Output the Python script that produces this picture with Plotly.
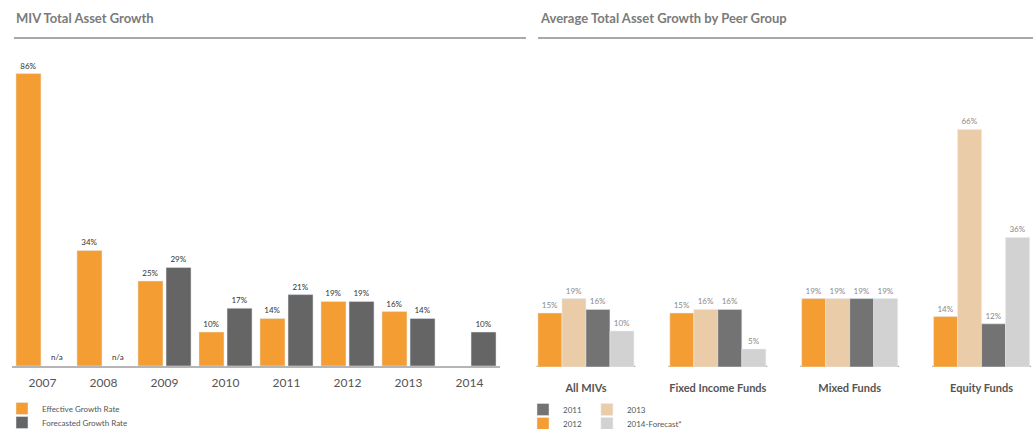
import plotly.graph_objects as go

# ---------------- data ----------------
years = ["2007", "2008", "2009", "2010", "2011", "2012", "2013", "2014"]
effective_growth = [86, 34, 25, 10, 14, 19, 16, None]
forecasted_growth = [None, None, 29, 17, 21, 19, 14, 10]

peer_groups = ["All MIVs", "Fixed Income Funds", "Mixed Funds", "Equity Funds"]
growth_2012 = [15, 15, 19, 14]
growth_2013 = [19, 16, 19, 66]
growth_2011 = [16, 16, 19, 12]
growth_2014_forecast = [10, 5, 19, 36]

# ---------------- style ----------------
W, H = 1033, 429
ORANGE = "#F49D33"
DARK = "#656565"
DARK2 = "#737373"
BEIGE = "#EBCCA9"
LIGHT = "#D2D2D2"
FONT = "Lato"


def fx(p):
    return p / W


def fy(p):
    return 1 - p / H


def lab(vals):
    return [f"{v}%" if v is not None else "" for v in vals]


fig = go.Figure()

# ---------- left chart ----------
LW = 0.41
left_series = [
    ("Effective Growth Rate", effective_growth, ORANGE, -0.435, "legend"),
    ("Forecasted Growth Rate", forecasted_growth, DARK, 0.025, "legend4"),
]
for name, vals, col, off, lg in left_series:
    fig.add_trace(go.Bar(
        x=years, y=vals, name=name, marker_color=col, width=LW, offset=off,
        text=lab(vals), textposition="outside", cliponaxis=False,
        constraintext="none",
        textfont=dict(family=FONT, size=8, color="#333333"),
        xaxis="x", yaxis="y", legend=lg, hoverinfo="skip",
    ))

# n/a markers for missing forecasts
for i, v in enumerate(forecasted_growth):
    if v is None:
        fig.add_annotation(x=i, y=0, xref="x", yref="y", text="n/a",
                           showarrow=False, xshift=14, yanchor="bottom", yshift=2,
                           font=dict(family=FONT, size=8, color="#333333"))

# ---------- right chart ----------
RW = 0.182
right_series = [
    ("2012", growth_2012, ORANGE, "legend3", 1),
    ("2013", growth_2013, BEIGE, "legend2", 2),
    ("2011", growth_2011, DARK2, "legend2", 1),
    ("2014-Forecast*", growth_2014_forecast, LIGHT, "legend3", 2),
]
for i, (name, vals, col, lg, rank) in enumerate(right_series):
    fig.add_trace(go.Bar(
        x=peer_groups, y=vals, name=name, marker_color=col, width=RW,
        offset=-2 * RW + i * RW,
        text=lab(vals), textposition="outside", cliponaxis=False,
        constraintext="none",
        textfont=dict(family=FONT, size=8, color="#8a8a8a"),
        xaxis="x2", yaxis="y2", legend=lg, legendrank=rank, hoverinfo="skip",
    ))

# per-group baselines on right chart
for i, _ in enumerate(peer_groups):
    fig.add_shape(type="line", xref="x2", yref="y2", x0=i - 0.375, x1=i + 0.375,
                  y0=0, y1=0, line=dict(color="#A8A8A8", width=2.5), layer="below")

# titles and separators
fig.add_annotation(x=fx(14), y=fy(18), xref="paper", yref="paper",
                   text="<b>MIV Total Asset Growth</b>", showarrow=False,
                   xanchor="left", yanchor="middle",
                   font=dict(family=FONT, size=13, color="#7b7b7b"))
fig.add_annotation(x=fx(538), y=fy(18), xref="paper", yref="paper",
                   text="<b>Average Total Asset Growth by Peer Group</b>", showarrow=False,
                   xanchor="left", yanchor="middle",
                   font=dict(family=FONT, size=13, color="#7b7b7b"))
fig.add_shape(type="line", xref="paper", yref="paper", x0=fx(14), x1=fx(526),
              y0=fy(38), y1=fy(38), line=dict(color="#8c8c8c", width=1.5))
fig.add_shape(type="line", xref="paper", yref="paper", x0=fx(538), x1=1,
              y0=fy(38), y1=fy(38), line=dict(color="#8c8c8c", width=1.5))

legend_style = dict(xanchor="left", yanchor="top", itemwidth=30,
                    font=dict(family=FONT, size=8, color="#555555"),
                    bgcolor="rgba(0,0,0,0)")

fig.update_layout(
    width=W, height=H,
    margin=dict(l=0, r=0, t=0, b=0, autoexpand=False),
    paper_bgcolor="white", plot_bgcolor="white",
    showlegend=True,
    xaxis=dict(domain=[fx(12), fx(500)], range=[-0.5, 7.5], type="category",
               showgrid=False, zeroline=False, showline=True,
               linecolor="#B5B5B5", linewidth=2,
               ticks="outside", ticklen=5, tickcolor="rgba(0,0,0,0)",
               tickfont=dict(family=FONT, size=12, color="#555555")),
    yaxis=dict(domain=[fy(366), fy(43)], range=[0, 95], visible=False),
    xaxis2=dict(domain=[fx(520), 1], range=[-0.5, 3.39], type="category",
                showgrid=False, zeroline=False, showline=False,
                ticks="outside", ticklen=12, tickcolor="rgba(0,0,0,0)",
                tickfont=dict(family=FONT, size=11, color="#555555", weight="bold")),
    yaxis2=dict(domain=[fy(367), fy(79)], range=[0, 80], visible=False),
    legend=dict(x=fx(2), y=fy(394), orientation="h", **legend_style),
    legend4=dict(x=fx(2), y=fy(408), orientation="h", **legend_style),
    legend2=dict(x=fx(523), y=fy(395), orientation="h", **legend_style),
    legend3=dict(x=fx(523), y=fy(409), orientation="h", **legend_style),
)

fig.write_html(
    "out.html",
    config={"displayModeBar": False},
    post_script="document.body.style.margin='0';document.body.style.overflow='hidden';",
)
